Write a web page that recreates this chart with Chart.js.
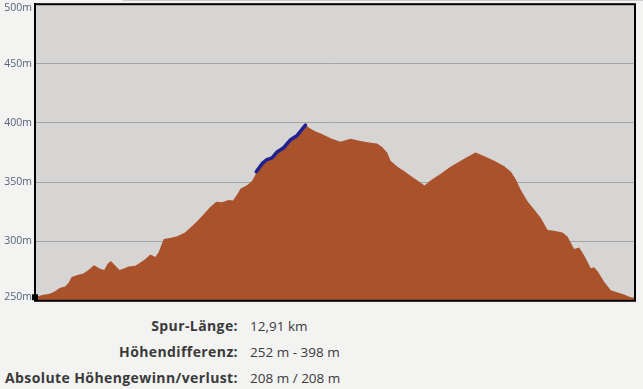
<!DOCTYPE html>
<html>
<head>
<meta charset="utf-8">
<script src="https://cdn.jsdelivr.net/npm/chart.js@4.4.1/dist/chart.umd.min.js"></script>
<style>
    html, body {
        margin: 0;
        padding: 0;
        background: #f3f3f2;
        width: 643px;
        height: 389px;
        overflow: hidden;
    }

    .top-strip {
        position: absolute;
        left: 123px;
        top: 0;
        width: 520px;
        height: 1px;
        background: #cdcdcd;
    }

    .chart-box {
        position: absolute;
        left: 0;
        top: 0;
        width: 643px;
        height: 305px;
    }

    .track-info {
        position: absolute;
        left: 0;
        top: 313px;
        border-collapse: collapse;
        font-family: "Open Sans", sans-serif;
        font-size: 13.5px;
        color: #3a3a3a;
    }

    .track-info td {
        padding: 0;
        height: 26px;
        line-height: 26px;
        white-space: nowrap;
    }

    .track-info td.label {
        width: 238px;
        text-align: right;
        font-weight: bold;
        font-size: 14px;
        letter-spacing: 0.4px;
    }

    .track-info td.value {
        padding-left: 12px;
    }
</style>
</head>
<body>

<div class="top-strip"></div>

<div class="chart-box">
    <canvas id="profileChart" width="643" height="305"></canvas>
</div>

<table class="track-info" id="track-info"></table>

<script>
// distance along the track (km) and elevation (m)
const distances = [
    0, 0.02, 0.18, 0.32, 0.43, 0.54, 0.65, 0.72, 0.79, 0.93,
    1.04, 1.15, 1.27, 1.40, 1.49, 1.56, 1.63, 1.72, 1.82, 1.90,
    2.01, 2.16, 2.26, 2.37, 2.48, 2.59, 2.66, 2.77, 2.91, 3.06,
    3.23, 3.34, 3.49, 3.63, 3.77, 3.90, 4.02, 4.17, 4.26, 4.35,
    4.42, 4.56, 4.67, 4.76, 4.89, 4.99, 5.10, 5.21, 5.35, 5.50,
    5.64, 5.82, 5.93, 6.07, 6.14, 6.36, 6.57, 6.79, 7.00, 7.22,
    7.36, 7.47, 7.58, 7.65, 7.80, 7.94, 8.08, 8.23, 8.38, 8.51,
    8.73, 8.94, 9.16, 9.30, 9.48, 9.66, 9.88, 10.09, 10.24, 10.35,
    10.45, 10.60, 10.74, 10.88, 11.03, 11.17, 11.35, 11.46, 11.60, 11.71,
    11.82, 11.96, 12.03, 12.11, 12.25, 12.39, 12.54, 12.68, 12.80, 12.91
];

const elevations = [
    252, 253.5, 255, 256, 258, 261, 262, 265, 270, 272,
    273, 276, 280, 277, 276, 281, 283.5, 280, 276, 277,
    279, 279.5, 282, 285, 289, 287, 291, 302, 303, 304.5,
    307.5, 311.5, 317, 323, 329, 333.5, 333, 335, 334.5, 339.5,
    344.5, 347.5, 351, 357.5, 366, 369, 370.5, 375.5, 379, 386,
    389.5, 398, 395, 392, 391.3, 387, 384, 386.5, 384.7, 383.3,
    382.5, 379.7, 374.7, 368, 363, 359.4, 355.5, 351.3, 347.2, 351.3,
    357, 363, 368, 371.3, 375, 372, 368, 363.6, 358.8, 352,
    343.6, 333.8, 327, 320, 309.7, 309, 307.5, 304, 293.6, 295,
    288, 277.5, 278.3, 274.7, 265.8, 258.8, 257, 255.4, 253.3, 252.5
];

// highlighted stretch (blue)
const highlightDistances = [4.76, 4.89, 4.99, 5.10, 5.21, 5.35, 5.50, 5.64, 5.82];
const highlightElevations = [358.8, 365.8, 369, 370.5, 375.5, 379, 385.8, 389.4, 398];

// start marker
const markerDistances = [0];
const markerElevations = [253];

const yTicks = [250, 300, 350, 400, 450, 500];
const yMin = 250;
const yMax = 500;
const trackLength = 12.91;

const infoLabels = ["Spur-Länge:", "Höhendifferenz:", "Absolute Höhengewinn/verlust:"];
const infoValues = ["12,91 km", "252 m - 398 m", "208 m / 208 m"];


const infoTable = document.getElementById("track-info");

infoLabels.forEach((label, i) => {
    const row = document.createElement("tr");
    row.innerHTML = `<td class="label">${label}</td><td class="value">${infoValues[i]}</td>`;
    infoTable.appendChild(row);
});


function toPoints(xs, ys) {
    return xs.map((x, i) => ({ x: x, y: ys[i] }));
}

const plotFrame = {
    id: "plotFrame",
    beforeDraw(chart) {
        const { ctx, chartArea } = chart;
        ctx.save();
        ctx.fillStyle = "#d6d5d3";
        ctx.fillRect(chartArea.left, chartArea.top, chartArea.right - chartArea.left, chartArea.bottom - chartArea.top);
        ctx.restore();
    },
    afterDraw(chart) {
        const { ctx, chartArea } = chart;
        ctx.save();
        ctx.strokeStyle = "#000000";
        ctx.lineWidth = 2;
        ctx.strokeRect(chartArea.left, chartArea.top, chartArea.right - chartArea.left, chartArea.bottom - chartArea.top);
        ctx.restore();
    }
};

new Chart(document.getElementById("profileChart"), {
    type: "line",
    data: {
        datasets: [
            {
                data: toPoints(markerDistances, markerElevations),
                showLine: false,
                pointStyle: "rect",
                pointRadius: 4.2,
                pointBackgroundColor: "#000000",
                pointBorderWidth: 0,
                clip: false,
                order: 0
            },
            {
                data: toPoints(highlightDistances, highlightElevations),
                borderColor: "#1f2290",
                borderWidth: 3.5,
                borderCapStyle: "round",
                borderJoinStyle: "round",
                pointRadius: 0,
                fill: false,
                tension: 0,
                order: 1
            },
            {
                data: toPoints(distances, elevations),
                borderWidth: 0,
                backgroundColor: "#aa522c",
                fill: "start",
                pointRadius: 0,
                tension: 0,
                order: 2
            }
        ]
    },
    options: {
        responsive: false,
        animation: false,
        layout: {
            padding: { top: 3, right: 8, bottom: 4, left: 0 }
        },
        plugins: {
            legend: { display: false },
            tooltip: { enabled: false }
        },
        scales: {
            x: {
                type: "linear",
                min: 0,
                max: trackLength,
                display: false
            },
            y: {
                min: yMin,
                max: yMax,
                afterBuildTicks: (scale) => {
                    scale.ticks = yTicks.map(v => ({ value: v }));
                },
                afterFit: (scale) => {
                    scale.width = 35;
                    scale.paddingTop = 0;
                    scale.paddingBottom = 0;
                },
                ticks: {
                    padding: 3,
                    color: "#55627f",
                    font: { family: "Open Sans", size: 10.5, lineHeight: 0.8 },
                    callback: (value) => {
                        if (value === yMax) return ["", value + "m"];
                        if (value === yMin) return [value + "m", ""];
                        return value + "m";
                    }
                },
                grid: {
                    color: "#a5a5a5",
                    lineWidth: 1,
                    drawTicks: false
                },
                border: {
                    color: "#000000",
                    width: 2
                }
            }
        }
    },
    plugins: [plotFrame]
});
</script>
</body>
</html>
